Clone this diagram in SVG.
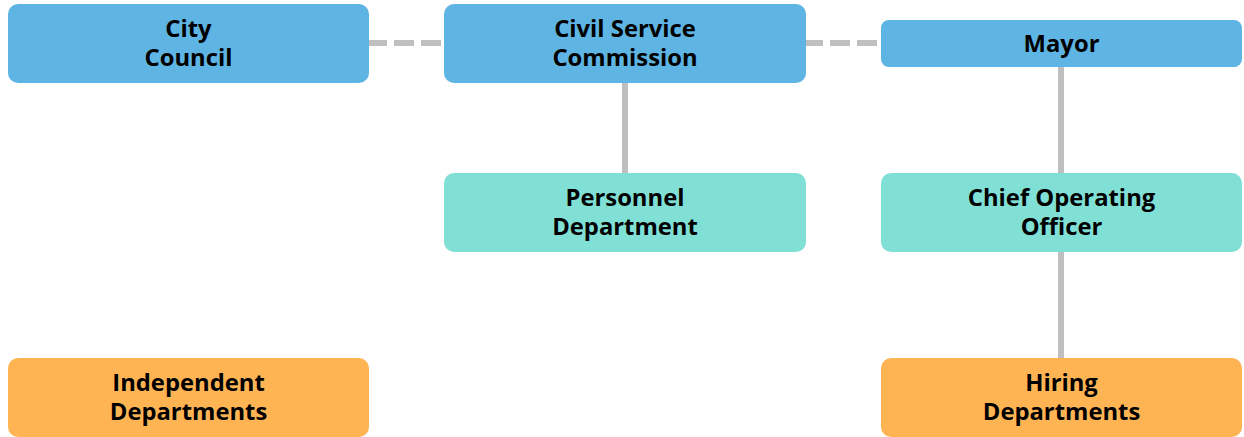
<svg xmlns="http://www.w3.org/2000/svg" width="1244" height="437" viewBox="0 0 1244 437">
<style>
.blue{fill:#5eb5e3}
.teal{fill:#80e0d6}
.orange{fill:#ffb454}
text{font-family:"Open Sans","Noto Sans","Liberation Sans",sans-serif;font-weight:700;font-size:23.8px;fill:#000;text-anchor:middle}
.solid{stroke:#bfbfbf;stroke-width:6;fill:none}
.dash{stroke:#bfbfbf;stroke-width:6;fill:none;stroke-dasharray:20 7}
</style>
<rect width="1244" height="437" fill="#fff"/>
<g id="connectors">
<line class="dash" x1="367" y1="43" x2="444" y2="43"/>
<line class="dash" x1="803" y1="43" x2="881" y2="43"/>
<line class="solid" x1="625" y1="83" x2="625" y2="173"/>
<line class="solid" x1="1061" y1="67" x2="1061" y2="173"/>
<line class="solid" x1="1061" y1="252" x2="1061" y2="358"/>
</g>
<g id="city-council">
<rect class="blue" x="8" y="4" width="361" height="79" rx="10"/>
<text x="188.5" y="37">City</text>
<text x="188.5" y="66">Council</text>
</g>
<g id="civil-service-commission">
<rect class="blue" x="444" y="4" width="362" height="79" rx="10"/>
<text x="625" y="37">Civil Service</text>
<text x="625" y="66">Commission</text>
</g>
<g id="mayor">
<rect class="blue" x="881" y="20" width="361" height="47" rx="8"/>
<text x="1061.5" y="52">Mayor</text>
</g>
<g id="personnel-department">
<rect class="teal" x="444" y="173" width="362" height="79" rx="10"/>
<text x="625" y="206">Personnel</text>
<text x="625" y="235">Department</text>
</g>
<g id="chief-operating-officer">
<rect class="teal" x="881" y="173" width="361" height="79" rx="10"/>
<text x="1061.5" y="206">Chief Operating</text>
<text x="1061.5" y="235">Officer</text>
</g>
<g id="independent-departments">
<rect class="orange" x="8" y="358" width="361" height="79" rx="10"/>
<text x="188.5" y="391">Independent</text>
<text x="188.5" y="420">Departments</text>
</g>
<g id="hiring-departments">
<rect class="orange" x="881" y="358" width="361" height="79" rx="10"/>
<text x="1061.5" y="391">Hiring</text>
<text x="1061.5" y="420">Departments</text>
</g>
</svg>
